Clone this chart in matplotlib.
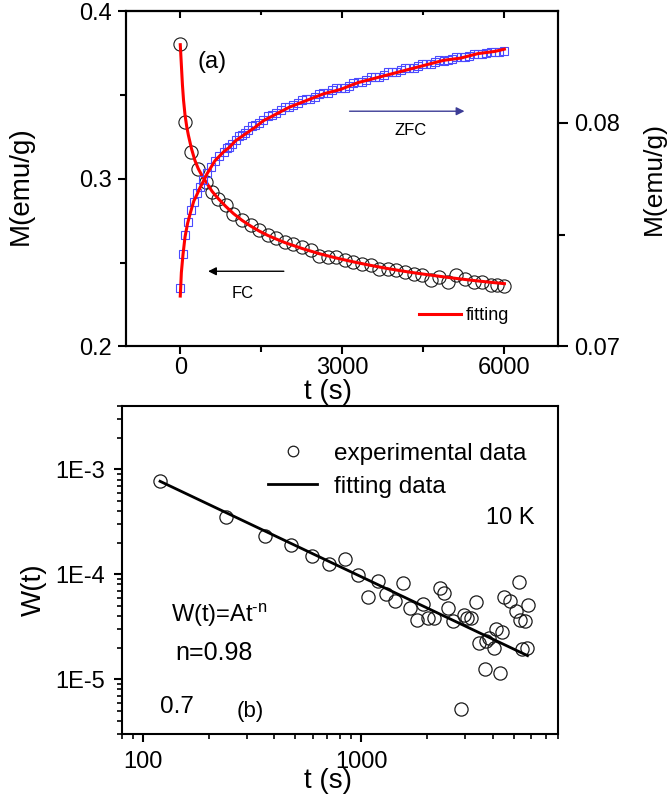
import matplotlib
matplotlib.use('Agg')
import matplotlib.pyplot as plt
from matplotlib.lines import Line2D
from matplotlib.ticker import NullFormatter, FixedLocator

plt.rcParams['font.family'] = ['Liberation Sans', 'DejaVu Sans']
plt.rcParams['mathtext.fontset'] = 'custom'
plt.rcParams['mathtext.rm'] = 'Liberation Sans'
plt.rcParams['mathtext.it'] = 'Liberation Sans'

# === DATA: panel (a) ===
fc_t = [0, 88, 207, 333, 469, 588, 707, 842, 985, 1143, 1302, 1460, 1619, 1778,
        1937, 2095, 2254, 2413, 2571, 2730, 2889, 3048, 3206, 3365, 3524, 3683,
        3841, 4000, 4159, 4317, 4476, 4635, 4794, 4952, 5111, 5270, 5429, 5587,
        5746, 5865, 6000]
fc_m = [0.3807, 0.3336, 0.3160, 0.3060, 0.2980, 0.2920, 0.2882, 0.2842, 0.2792,
        0.2752, 0.2722, 0.2693, 0.2663, 0.2649, 0.2623, 0.2609, 0.2593, 0.2573,
        0.2537, 0.2533, 0.2533, 0.2514, 0.2503, 0.2494, 0.2484, 0.2464, 0.2464,
        0.2454, 0.2444, 0.2434, 0.2424, 0.2394, 0.2414, 0.2384, 0.2424, 0.2404,
        0.2384, 0.2384, 0.2364, 0.2364, 0.2358]

fc_fit_t = [0, 20, 40, 60, 88, 120, 150, 207, 270, 333, 400, 469, 588, 707, 842,
            985, 1143, 1302, 1460, 1619, 1778, 1937, 2254, 2571, 2889, 3206, 3524,
            3841, 4159, 4476, 4794, 5111, 5429, 5746, 6000]
fc_fit_m = [0.3800, 0.3680, 0.3560, 0.3470, 0.3380, 0.3310, 0.3260, 0.3180,
            0.3110, 0.3060, 0.3020, 0.2985, 0.2925, 0.2880, 0.2835, 0.2792,
            0.2752, 0.2718, 0.2688, 0.2662, 0.2640, 0.2619, 0.2584, 0.2553,
            0.2527, 0.2504, 0.2483, 0.2464, 0.2447, 0.2432, 0.2418, 0.2405,
            0.2393, 0.2382, 0.2374]

zfc_t = [0, 56, 88, 135, 190, 246, 310, 365, 429, 492, 564, 643, 722, 802, 860,
         905, 965, 1024, 1085, 1143, 1200, 1262, 1320, 1381, 1460, 1540, 1620,
         1699, 1780, 1857, 1935, 2016, 2095, 2175, 2255, 2333, 2410, 2492, 2570,
         2651, 2730, 2810, 2890, 2968, 3050, 3127, 3205, 3286, 3365, 3444, 3525,
         3603, 3680, 3762, 3840, 3921, 4000, 4079, 4160, 4238, 4320, 4397, 4475,
         4556, 4635, 4714, 4795, 4873, 4950, 5032, 5110, 5190, 5270, 5349, 5430,
         5508, 5590, 5667, 5745, 5825, 5905, 5984]
zfc_m = [0.07263, 0.07411, 0.07498, 0.07558, 0.07610, 0.07647, 0.07685, 0.07714,
         0.07744, 0.07774, 0.07804, 0.07830, 0.07852, 0.07871, 0.07888, 0.07894,
         0.07905, 0.07924, 0.07940, 0.07946, 0.07953, 0.07969, 0.07986, 0.07991,
         0.07998, 0.08013, 0.08030, 0.08036, 0.08043, 0.08058, 0.08071, 0.08073,
         0.08078, 0.08091, 0.08104, 0.08106, 0.08108, 0.08118, 0.08131, 0.08133,
         0.08135, 0.08145, 0.08156, 0.08156, 0.08158, 0.08167, 0.08180, 0.08181,
         0.08183, 0.08193, 0.08204, 0.08205, 0.08206, 0.08215, 0.08226, 0.08226,
         0.08227, 0.08235, 0.08245, 0.08245, 0.08247, 0.08256, 0.08265, 0.08265,
         0.08265, 0.08272, 0.08281, 0.08279, 0.08280, 0.08287, 0.08296, 0.08295,
         0.08294, 0.08300, 0.08309, 0.08308, 0.08308, 0.08313, 0.08319, 0.08317,
         0.08318, 0.08323]

zfc_fit_t = [0, 20, 50, 88, 135, 190, 250, 310, 365, 430, 490, 565, 640, 720, 800,
             905, 1024, 1143, 1262, 1381, 1540, 1700, 1857, 2016, 2333, 2651, 2968,
             3286, 3603, 3921, 4238, 4556, 4873, 5190, 5508, 5825, 6000]
zfc_fit_m = [0.07225, 0.07330, 0.07410, 0.07490, 0.07550, 0.07600, 0.07650,
             0.07680, 0.07710, 0.07740, 0.07770, 0.07800, 0.07830, 0.07850,
             0.07870, 0.07890, 0.07920, 0.07940, 0.07960, 0.07980, 0.08010,
             0.08030, 0.08050, 0.08070, 0.08100, 0.08130, 0.08150, 0.08180,
             0.08200, 0.08220, 0.08240, 0.08260, 0.08280, 0.08290, 0.08310,
             0.08320, 0.08330]

# === DATA: panel (b) ===
w_t = [120, 240, 361, 478, 598, 715, 840, 964, 1073, 1191, 1302, 1430, 1556, 1672,
       1796, 1913, 2018, 2160, 2287, 2393, 2502, 2638, 2858, 2951, 3044, 3197,
       3345, 3451, 3690, 3741, 3856, 4036, 4128, 4316, 4416, 4511, 4822, 5112,
       5276, 5322, 5447, 5598, 5721, 5774]
w_val = [7.7e-4, 3.5e-4, 2.3e-4, 1.9e-4, 1.5e-4, 1.25e-4, 1.4e-4, 9.9e-5, 6.1e-5,
         8.6e-5, 6.5e-5, 5.6e-5, 8.3e-5, 4.8e-5, 3.7e-5, 5.2e-5, 3.8e-5, 3.8e-5,
         7.4e-5, 6.7e-5, 4.8e-5, 3.6e-5, 5.2e-6, 4.1e-5, 3.8e-5, 3.8e-5, 5.4e-5,
         2.2e-5, 1.26e-5, 2.3e-5, 2.5e-5, 2.0e-5, 3.0e-5, 1.15e-5, 2.8e-5, 6.1e-5,
         5.6e-5, 4.5e-5, 8.4e-5, 3.7e-5, 1.95e-5, 3.6e-5, 2.0e-5, 5.1e-5]
w_fit_t = [120, 5774]
w_fit_val = [7.7e-4, 1.68e-5]

left_ticks = [0.2, 0.3, 0.4]
right_ticks = [0.07, 0.08]
x_ticks_a = [0, 3000, 6000]
y_ticks_b = [1e-5, 1e-4, 1e-3]
y_labels_b = ['1E-5', '1E-4', '1E-3']
x_ticks_b = [100, 1000]
x_labels_b = ['100', '1000']

# === FIGURE ===
fig = plt.figure(figsize=(6.68, 7.98), dpi=100)
ax = fig.add_axes([0.189, 0.566, 0.647, 0.420])
ax2 = ax.twinx()

ax.plot(fc_t, fc_m, 'o', ms=9.5, mfc='none', mec='#1a1a1a', mew=0.8)
ax.plot(fc_fit_t, fc_fit_m, '-', color='#ff0000', lw=2.2, zorder=5)
ax2.plot(zfc_t, zfc_m, 's', ms=5.5, mfc='none', mec='#4a4aff', mew=0.8)
ax2.plot(zfc_fit_t, zfc_fit_m, '-', color='#ff0000', lw=2.2, zorder=5)

ax.set_xlim(-1000, 7000)
ax.set_ylim(0.2, 0.4)
ax2.set_ylim(0.07, 0.085)
ax.set_xticks(x_ticks_a)
ax.set_xticklabels([str(v) for v in x_ticks_a])
ax.xaxis.set_minor_locator(FixedLocator([1500, 4500]))
ax.set_yticks(left_ticks)
ax.set_yticklabels(['0.2', '0.3', '0.4'])
ax.yaxis.set_minor_locator(FixedLocator([0.25, 0.35]))
ax2.set_yticks(right_ticks)
ax2.set_yticklabels(['0.07', '0.08'])
ax2.yaxis.set_minor_locator(FixedLocator([0.075]))

for a in (ax, ax2):
    for s in a.spines.values():
        s.set_linewidth(1.5)
ax.tick_params(axis='both', which='major', direction='out', length=6, width=1.5,
               labelsize=17, pad=4)
ax.tick_params(axis='both', which='minor', direction='out', length=4, width=1.5)
ax.tick_params(axis='x', which='major', pad=2)
ax2.tick_params(axis='y', which='major', direction='out', length=7, width=1.5,
                labelsize=17, pad=4)
ax2.tick_params(axis='y', which='minor', direction='out', length=5, width=1.5)

top = ax.secondary_xaxis('top')
top.set_xticks(x_ticks_a)
top.xaxis.set_minor_locator(FixedLocator([1500, 4500]))
top.tick_params(which='major', direction='in', length=5, width=1.5, labeltop=False)
top.tick_params(which='minor', direction='in', length=3, width=1.5)
top.spines['top'].set_linewidth(1.5)

ax.set_xlabel('t (s)', fontsize=20)
ax.xaxis.set_label_coords(0.467, -0.096)
ax.set_ylabel('M(emu/g)', fontsize=20)
ax.yaxis.set_label_coords(-0.214, 0.48)
ax2.set_ylabel('M(emu/g)', fontsize=19)
ax2.yaxis.set_label_coords(1.192, 0.50)

ax.text(593, 0.3696, '(a)', fontsize=17, ha='center', va='center')
ax.annotate('', xy=(463, 0.2448), xytext=(1968, 0.2448),
            arrowprops=dict(arrowstyle='-|>', color='black', lw=1.0,
                            mutation_scale=12))
ax.text(1150, 0.2316, 'FC', fontsize=12, ha='center', va='center')
ax.annotate('', xy=(5312, 0.3403), xytext=(3082, 0.3403),
            arrowprops=dict(arrowstyle='-|>', color='#3c3c96', lw=1.0,
                            mutation_scale=12))
ax.text(4272, 0.3290, 'ZFC', fontsize=12, ha='center', va='center')

fit_handle = Line2D([], [], color='#ff0000', lw=2.2)
ax.legend([fit_handle], ['fitting'], loc='center left',
          bbox_to_anchor=(0.678, 0.0925), frameon=False, fontsize=13,
          handlelength=2.3, handletextpad=0.3, borderpad=0, borderaxespad=0)

# === PANEL (b) ===
bx = fig.add_axes([0.182, 0.080, 0.654, 0.411])
bx.plot(w_t, w_val, 'o', ms=9.5, mfc='none', mec='#1a1a1a', mew=0.9,
        label='experimental data')
bx.plot(w_fit_t, w_fit_val, '-', color='black', lw=2.0, label='fitting data')
bx.set_xscale('log')
bx.set_yscale('log')
bx.set_xlim(80, 8000)
bx.set_ylim(3e-6, 4e-3)
bx.set_yticks(y_ticks_b)
bx.set_yticklabels(y_labels_b)
bx.set_xticks(x_ticks_b)
bx.set_xticklabels(x_labels_b)
bx.xaxis.set_minor_formatter(NullFormatter())
bx.yaxis.set_minor_formatter(NullFormatter())
for s in bx.spines.values():
    s.set_linewidth(1.5)
bx.tick_params(axis='both', which='major', direction='out', length=6, width=1.5,
               labelsize=17, pad=6)
bx.tick_params(axis='both', which='minor', direction='out', length=3.5, width=1.2)

bx.set_xlabel('t (s)', fontsize=20)
bx.xaxis.set_label_coords(0.473, -0.104)
bx.set_ylabel('W(t)', fontsize=20)
bx.yaxis.set_label_coords(-0.171, 0.439)

bx.legend(loc='center left', bbox_to_anchor=(0.336, 0.805), frameon=False,
          fontsize=17.5, handlelength=2.0, handletextpad=0.7, labelspacing=0.45,
          numpoints=1, markerscale=0.8, borderpad=0, borderaxespad=0)

bx.text(0.890, 0.659, '10 K', transform=bx.transAxes, fontsize=17,
        ha='center', va='center')
bx.text(0.223, 0.363, r'W(t)=At$^{\text{-n}}$', transform=bx.transAxes,
        fontsize=17, ha='center', va='center')
bx.text(0.212, 0.247, 'n=0.98', transform=bx.transAxes, fontsize=18,
        ha='center', va='center')
bx.text(0.127, 0.082, '0.7', transform=bx.transAxes, fontsize=17.5,
        ha='center', va='center')
bx.text(0.294, 0.070, '(b)', transform=bx.transAxes, fontsize=16,
        ha='center', va='center')

fig.savefig('out.png', dpi=100)
